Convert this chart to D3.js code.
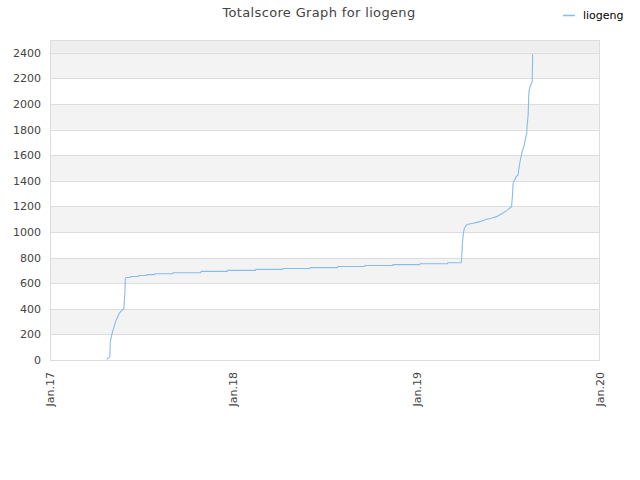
<!DOCTYPE html>
<html><head><meta charset="utf-8">
<script src="https://cdn.jsdelivr.net/npm/d3@7"></script>
<style>body{margin:0;background:#fff}svg{display:block;font-family:"DejaVu Sans",sans-serif}</style>
</head><body><svg id="c" width="640" height="480"></svg>
<script>
const seriesName = "liogeng";
const dates = ["2017-04-24","2017-04-30","2017-05-01","2017-05-03","2017-05-06","2017-05-09","2017-05-12","2017-05-15","2017-05-19","2017-05-22","2017-05-28","2017-05-30","2017-05-31",
"2017-06-03","2017-06-10","2017-06-11","2017-06-26","2017-06-27","2017-07-12","2017-07-13","2017-07-28","2017-07-29","2017-09-02","2017-09-03","2017-10-28","2017-10-29","2017-12-20","2017-12-21",
"2018-02-14","2018-02-15","2018-04-09","2018-04-10","2018-06-02","2018-06-03","2018-07-27","2018-07-28","2018-09-19","2018-09-20","2018-11-14","2018-11-15","2019-01-07","2019-01-08","2019-03-03","2019-03-04","2019-03-30",
"2019-03-31","2019-04-01","2019-04-02","2019-04-04","2019-04-06","2019-04-11","2019-04-21","2019-05-01","2019-05-11","2019-05-20","2019-05-30","2019-06-09","2019-06-19","2019-06-29","2019-07-09",
"2019-07-11","2019-07-12","2019-07-18","2019-07-22","2019-07-24","2019-07-27","2019-07-30","2019-08-03","2019-08-05","2019-08-08","2019-08-09","2019-08-11","2019-08-12","2019-08-13","2019-08-16","2019-08-19","2019-08-20"];
const scores = [5,25,140,180,225,265,305,330,365,380,400,520,640,
645,645,652,652,660,660,667,667,674,674,682,682,692,692,700,
700,708,708,715,715,722,722,730,730,738,738,745,745,752,752,760,760,
763,830,910,990,1030,1059,1067,1075,1086,1099,1107,1120,1141,1167,1198,
1300,1380,1432,1445,1510,1575,1628,1672,1719,1771,1836,1914,2057,2109,2148,2174,2390];
const xTickDates = ["2017-01-01","2018-01-01","2019-01-01","2020-01-01"];
const xTickLabels = ["Jan.17","Jan.18","Jan.19","Jan.20"];
const yTicks = [0,200,400,600,800,1000,1200,1400,1600,1800,2000,2200,2400];

const parse = d3.timeParse("%Y-%m-%d");
const data = dates.map((d,i)=>({date:parse(d), v:scores[i]}));
const svg = d3.select("#c");
const L=50,R=600,T=40,B=360;
const x = d3.scaleTime().domain([parse(xTickDates[0]), parse(xTickDates[3])]).range([L,R]);
const y = d3.scaleLinear().domain([0,2500]).range([B,T]);

const bands = [];
for (let v=200; v<2400; v+=400) bands.push([v, v+200]);
svg.append("rect").attr("x",L).attr("y",y(2500)).attr("width",R-L).attr("height",y(2400)-y(2500)).attr("fill","#eeeeee");
svg.selectAll("rect.band").data(bands).enter().append("rect").attr("class","band")
  .attr("x",L).attr("width",R-L).attr("y",d=>y(d[1])).attr("height",d=>y(d[0])-y(d[1])).attr("fill","#f3f3f3");
svg.selectAll("line.g").data(yTicks.concat([2500])).enter().append("line")
  .attr("x1",L).attr("x2",R).attr("y1",d=>Math.round(y(d))+0.5).attr("y2",d=>Math.round(y(d))+0.5)
  .attr("stroke","#dddddd");
svg.append("rect").attr("x",L+0.5).attr("y",T+0.5).attr("width",R-L-1).attr("height",B-T).attr("fill","none").attr("stroke","#dddddd");

svg.selectAll("text.y").data(yTicks).enter().append("text")
  .attr("x",41).attr("y",d=>y(d)+4).attr("text-anchor","end").attr("font-size",11).attr("fill","#444")
  .text(d=>d);
svg.selectAll("text.x").data(xTickDates).enter().append("text")
  .attr("transform",d=>`translate(${x(parse(d))+4},372) rotate(-90)`)
  .attr("text-anchor","end").attr("font-size",11).attr("fill","#444")
  .text((d,i)=>xTickLabels[i]);

const line = d3.line().x(d=>x(d.date)).y(d=>y(d.v));
svg.append("path").datum(data).attr("d",line).attr("fill","none").attr("stroke","#88bbee").attr("stroke-width",1.1);

svg.append("text").attr("x",319).attr("y",17).attr("text-anchor","middle").attr("font-size",13).attr("letter-spacing","0.35px").attr("fill","#444").text("Totalscore Graph for " + seriesName);
svg.append("line").attr("x1",563).attr("x2",575).attr("y1",15.5).attr("y2",15.5).attr("stroke","#88bbee").attr("stroke-width",1.5);
svg.append("text").attr("x",583).attr("y",19).attr("font-size",11).attr("fill","#000").text(seriesName);
</script></body></html>
